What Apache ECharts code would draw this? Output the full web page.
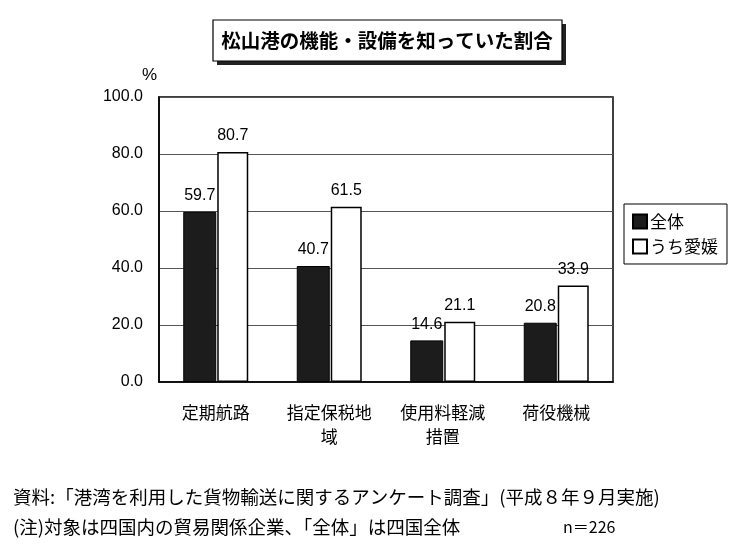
<!DOCTYPE html>
<html><head><meta charset="utf-8">
<script src="https://cdn.jsdelivr.net/npm/echarts@6/dist/echarts.min.js"></script>
<style>html,body{margin:0;padding:0;background:#fff}#c{width:750px;height:551px}</style>
</head><body><div id="c"></div>
<script>
const categories = ['定期航路', '指定保税地\n域', '使用料軽減\n措置', '荷役機械'];
const allShikoku = [59.7, 40.7, 14.6, 20.8];
const ehime = [80.7, 61.5, 21.1, 33.9];
const yTicks = [0, 20, 40, 60, 80, 100];
const FONT = '"Liberation Sans", "Noto Sans CJK JP", sans-serif';
const JP = '"Noto Sans CJK JP", "Liberation Sans", sans-serif';

const chart = echarts.init(document.getElementById('c'));
chart.setOption({
  animation: false,
  backgroundColor: '#fff',
  grid: { left: 159, right: 137, top: 97, bottom: 169, show: true, borderColor: '#000', borderWidth: 1.5 },
  legend: {
    orient: 'vertical', left: 624, top: 204,
    borderColor: '#000', borderWidth: 1, padding: [9, 9, 9, 8],
    icon: 'rect',
    itemWidth: 14, itemHeight: 14, itemGap: 8,
    textStyle: { fontFamily: JP, fontSize: 17, color: '#000', padding: [0, 0, 0, -2] },
    data: ['全体', 'うち愛媛']
  },
  xAxis: {
    type: 'category', data: categories,
    axisLine: { lineStyle: { color: '#000', width: 1.5 } },
    axisTick: { inside: true, length: 4, lineStyle: { color: '#000' } },
    axisLabel: { fontFamily: JP, fontSize: 17, color: '#000', margin: 19, lineHeight: 24 }
  },
  yAxis: {
    type: 'value', min: yTicks[0], max: yTicks[yTicks.length - 1], interval: 20,
    name: '%', nameLocation: 'end', nameGap: 13,
    nameTextStyle: { fontFamily: FONT, fontSize: 17, color: '#000', align: 'right', padding: [0, 2, 0, 0] },
    axisLine: { show: true, lineStyle: { color: '#000', width: 1.5 } },
    axisTick: { show: false },
    axisLabel: { fontFamily: FONT, fontSize: 16, color: '#000', margin: 16, formatter: v => v.toFixed(1) },
    splitLine: { lineStyle: { color: '#555', width: 1 } }
  },
  series: [
    {
      name: '全体', type: 'bar', data: allShikoku, barWidth: 33, barGap: '3%',
      itemStyle: { color: '#1c1c1c', borderColor: '#000', borderWidth: 1 },
      label: { show: true, position: 'top', distance: 8, fontFamily: FONT, fontSize: 16, color: '#000', formatter: p => p.value.toFixed(1) }
    },
    {
      name: 'うち愛媛', type: 'bar', data: ehime, barWidth: 31,
      itemStyle: { color: '#fff', borderColor: '#000', borderWidth: 1.5 },
      label: { show: true, position: 'top', distance: 8, fontFamily: FONT, fontSize: 16, color: '#000', formatter: p => p.value.toFixed(1) }
    }
  ],
  graphic: [
    { type: 'rect', shape: { x: 217, y: 24, width: 349, height: 41 }, style: { fill: '#222' }, z: 10 },
    { type: 'rect', shape: { x: 213, y: 20, width: 349, height: 41 }, style: { fill: '#fff', stroke: '#000', lineWidth: 1.2 }, z: 11 },
    { type: 'text', x: 387, y: 41, z: 12, style: { text: '松山港の機能・設備を知っていた割合', font: '600 19.5px ' + JP, fill: '#000', textAlign: 'center', textVerticalAlign: 'middle' } },
    { type: 'text', x: 13, y: 497, style: { text: '資料:「港湾を利用した貨物輸送に関するアンケート調査」(平成８年９月実施)', font: '18.5px ' + JP, fill: '#000', textVerticalAlign: 'middle' } },
    { type: 'text', x: 13, y: 527, style: { text: '(注)対象は四国内の貿易関係企業、「全体」は四国全体', font: '18.5px ' + JP, fill: '#000', textVerticalAlign: 'middle' } },
    { type: 'text', x: 563, y: 527, style: { text: 'n＝226', font: '16px ' + JP, fill: '#000', textVerticalAlign: 'middle' } }
  ]
});
</script></body></html>
